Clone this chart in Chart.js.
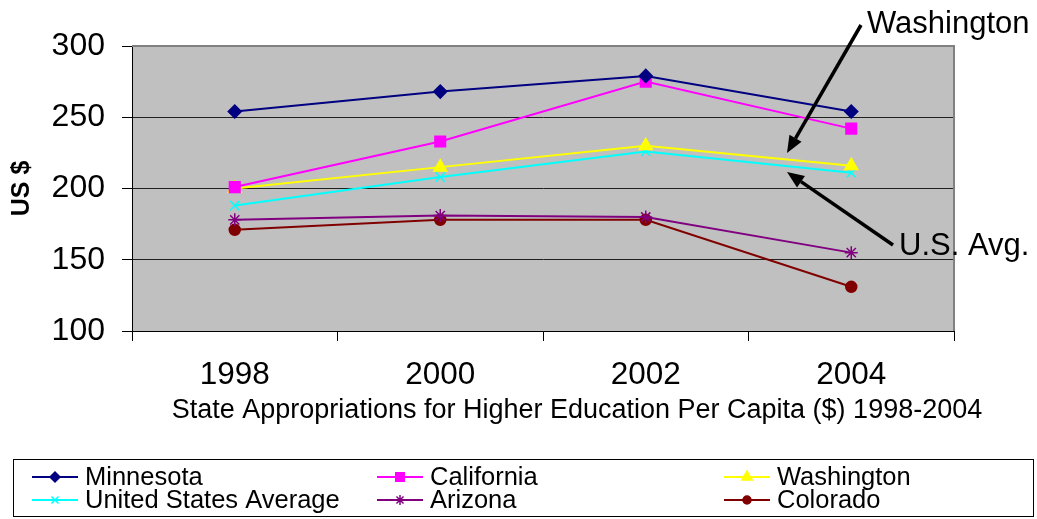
<!DOCTYPE html>
<html><head><meta charset="utf-8">
<script src="https://cdn.jsdelivr.net/npm/chart.js@4.4.0/dist/chart.umd.min.js"></script>
<style>html,body{margin:0;padding:0;background:#fff}canvas{display:block}</style>
</head><body>
<canvas id="c" width="1037" height="519"></canvas>
<script>
const years = ['1998', '2000', '2002', '2004'];
const minnesota = [254, 268, 279, 254];
const california = [201, 233, 275, 242];
const washington = [200, 215, 230, 216];
const usAverage = [188, 208, 226, 211];
const arizona = [178, 181, 180, 155];
const colorado = [171, 178, 178, 131];
const yMin = 100, yMax = 300, yStep = 50;
const xTitle = 'State Appropriations for Higher Education Per Capita ($) 1998-2004';
const yTitle = 'US $';
const noteWashington = 'Washington';
const noteUSAvg = 'U.S. Avg.';

const FONT = '"Liberation Sans", Arial, sans-serif';

function ds(label, data, color, style, r) {
  return {
    label, data, borderColor: color, backgroundColor: color,
    borderWidth: 2, pointStyle: style, pointRadius: r, pointHoverRadius: r,
    pointBorderWidth: 1.5, pointBackgroundColor: color, pointBorderColor: color,
    tension: 0, fill: false
  };
}

const datasets = [
  ds('Minnesota', minnesota, '#000080', 'rectRot', 6.5),
  ds('California', california, '#FF00FF', 'rect', 7.5),
  ds('Washington', washington, '#FFFF00', 'triangle', 7.5),
  ds('United States Average', usAverage, '#00FFFF', 'crossRot', 6.5),
  ds('Arizona', arizona, '#800080', 'star', 6.5),
  ds('Colorado', colorado, '#800000', 'circle', 5.5)
];

function drawMarker(ctx, style, r, x, y, color, bw) {
  ctx.save();
  ctx.fillStyle = color; ctx.strokeStyle = color; ctx.lineWidth = bw;
  Chart.helpers.drawPoint(ctx, {pointStyle: style, radius: r, rotation: 0, borderWidth: bw}, x, y);
  ctx.restore();
}

function arrow(ctx, x1, y1, x2, y2) {
  const ang = Math.atan2(y2 - y1, x2 - x1);
  const hl = 17, hw = 7;
  const bx = x2 - hl * Math.cos(ang), by = y2 - hl * Math.sin(ang);
  ctx.save();
  ctx.strokeStyle = '#000'; ctx.fillStyle = '#000'; ctx.lineWidth = 3.5;
  ctx.beginPath(); ctx.moveTo(x1, y1); ctx.lineTo(bx, by); ctx.stroke();
  ctx.beginPath();
  ctx.moveTo(x2, y2);
  ctx.lineTo(bx + hw * Math.sin(ang), by - hw * Math.cos(ang));
  ctx.lineTo(bx - hw * Math.sin(ang), by + hw * Math.cos(ang));
  ctx.closePath(); ctx.fill();
  ctx.restore();
}

const decor = {
  id: 'decor',
  beforeDraw(chart) {
    const {ctx, chartArea: a} = chart;
    ctx.save();
    ctx.fillStyle = '#C0C0C0';
    ctx.fillRect(a.left, a.top, a.right - a.left, a.bottom - a.top);
    ctx.restore();
  },
  beforeDatasetsDraw(chart) {
    const {ctx, chartArea: a} = chart;
    ctx.save();
    ctx.strokeStyle = '#808080'; ctx.lineWidth = 2;
    ctx.beginPath();
    ctx.moveTo(a.left, a.top); ctx.lineTo(a.right, a.top); ctx.lineTo(a.right, a.bottom);
    ctx.stroke();
    ctx.restore();
  },
  afterDraw(chart) {
    const {ctx} = chart;
    ctx.save();
    ctx.fillStyle = '#000';
    ctx.font = '27px ' + FONT;
    ctx.textAlign = 'center'; ctx.textBaseline = 'alphabetic';
    ctx.fillText(xTitle, 577, 418);
    ctx.font = '31px ' + FONT;
    ctx.textAlign = 'left';
    ctx.fillText(noteWashington, 867, 33);
    ctx.fillText(noteUSAvg, 899, 255);
    arrow(ctx, 861, 25, 787, 153);
    arrow(ctx, 893, 245, 787, 172);
    ctx.strokeStyle = '#000'; ctx.lineWidth = 1;
    ctx.strokeRect(13.5, 459.5, 1020, 57);
    const cols = [85, 430, 777], rows = [477, 500];
    const sizes = {rectRot: 5, rect: 6, triangle: 6, crossRot: 5, star: 5, circle: 4};
    chart.data.datasets.forEach((d, i) => {
      const tx = cols[i % 3], ty = rows[Math.floor(i / 3)];
      ctx.strokeStyle = d.borderColor; ctx.lineWidth = 2;
      ctx.beginPath(); ctx.moveTo(tx - 53, ty); ctx.lineTo(tx - 7, ty); ctx.stroke();
      drawMarker(ctx, d.pointStyle, sizes[d.pointStyle], tx - 30, ty, d.borderColor, 1.5);
      ctx.fillStyle = '#000';
      ctx.font = '25.5px ' + FONT;
      ctx.textAlign = 'left'; ctx.textBaseline = 'middle';
      ctx.fillText(d.label, tx, ty + 1);
    });
    ctx.restore();
  }
};

new Chart(document.getElementById('c'), {
  type: 'line',
  data: {labels: years, datasets},
  options: {
    responsive: false, animation: false, devicePixelRatio: 1,
    layout: {padding: {left: 0, top: 46, right: 83, bottom: 128}},
    plugins: {legend: {display: false}, tooltip: {enabled: false}},
    scales: {
      x: {
        type: 'category', offset: true,
        grid: {display: true, drawOnChartArea: false, drawTicks: true, tickLength: 10, color: '#000', offset: true},
        border: {display: true, color: '#000', width: 1},
        ticks: {color: '#000', font: {family: FONT, size: 31.5}, padding: 15, maxRotation: 0},
        afterFit(s) { s.height = 60; }
      },
      y: {
        min: yMin, max: yMax,
        grid: {
          color: c => (c.tick && c.tick.value === yMax) ? 'rgba(0,0,0,0)' : '#202020',
          tickColor: '#000', tickLength: 10, lineWidth: 1
        },
        border: {display: true, color: '#000', width: 1},
        ticks: {stepSize: yStep, color: '#000', font: {family: FONT, size: 32}, padding: 17},
        title: {display: true, text: yTitle, color: '#000', font: {family: FONT, size: 25, weight: 'bold'}, padding: {top: 7, bottom: 0}},
        afterFit(s) { s.width = 132; }
      }
    }
  },
  plugins: [decor]
});
</script>
</body></html>
